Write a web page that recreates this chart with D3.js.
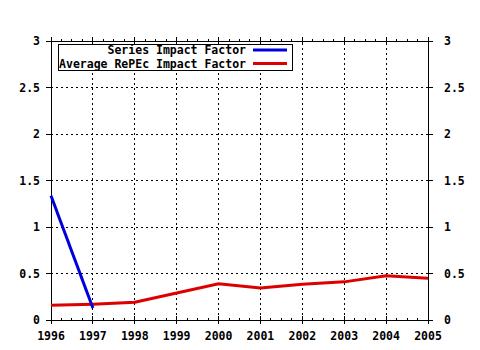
<!DOCTYPE html>
<html><head><meta charset="utf-8">
<script src="https://cdn.jsdelivr.net/npm/d3@7/dist/d3.min.js"></script>
<style>body{margin:0;background:#fff}svg{display:block}</style>
</head><body>
<script>
const years = [1996,1997,1998,1999,2000,2001,2002,2003,2004,2005];
const seriesIF = [1.335, 0.13];
const seriesYears = [1996, 1997];
const avgIF = [0.158, 0.17, 0.19, 0.29, 0.39, 0.345, 0.385, 0.41, 0.475, 0.45];
const yTicks = [0, 0.5, 1, 1.5, 2, 2.5, 3];
const yTickLabels = ["0","0.5","1","1.5","2","2.5","3"];
const legendLabels = ["Series Impact Factor", "Average RePEc Impact Factor"];
const colors = ["#0000dd", "#dd0000"];

const W = 480, H = 350;
const svg = d3.select("body").append("svg").attr("width", W).attr("height", H);
const x = d3.scaleLinear().domain([1996, 2005]).range([51, 428]);
const y = d3.scaleLinear().domain([0, 3]).range([320, 41]);
const font = "'DejaVu Sans Mono', monospace";

// grid
svg.append("g").selectAll("line").data(years.slice(1, -1)).join("line")
  .attr("x1", d => x(d)).attr("x2", d => x(d)).attr("y1", y(0)).attr("y2", y(3))
  .attr("stroke", "#000").attr("stroke-dasharray", "2,3").attr("shape-rendering", "crispEdges");
svg.append("g").selectAll("line").data(yTicks.slice(1, -1)).join("line")
  .attr("x1", x(1996)).attr("x2", x(2005)).attr("y1", d => y(d)).attr("y2", d => y(d))
  .attr("stroke", "#000").attr("stroke-dasharray", "2,3").attr("shape-rendering", "crispEdges");

// frame
svg.append("rect").attr("x", x(1996)).attr("y", y(3)).attr("width", x(2005) - x(1996)).attr("height", y(0) - y(3))
  .attr("fill", "none").attr("stroke", "#000").attr("shape-rendering", "crispEdges");

// y ticks both sides
const gt = svg.append("g").attr("stroke", "#000").attr("shape-rendering", "crispEdges");
yTicks.forEach(t => {
  gt.append("line").attr("x1", x(1996) - 5).attr("x2", x(1996)).attr("y1", y(t)).attr("y2", y(t));
  gt.append("line").attr("x1", x(2005)).attr("x2", x(2005) + 5).attr("y1", y(t)).attr("y2", y(t));
});
// x ticks top and bottom, with quarter minor ticks
const minor = d3.range(0, 37).map(i => 1996 + i * 0.25);
minor.forEach((t, i) => {
  const major = i % 4 === 0;
  gt.append("line").attr("x1", x(t)).attr("x2", x(t)).attr("y1", y(3) - (major ? 4 : 2)).attr("y2", y(3) + (major ? 4 : 0));
  gt.append("line").attr("x1", x(t)).attr("x2", x(t)).attr("y1", y(0) - (major ? 4 : 2)).attr("y2", y(0) + (major ? 4 : 0));
});

// labels
svg.append("g").selectAll("text").data(yTicks).join("text")
  .attr("x", 40).attr("y", d => y(d) + 4).attr("text-anchor", "end")
  .attr("font-family", font).attr("font-weight", "bold").attr("font-size", 11.5)
  .text((d, i) => yTickLabels[i]);
svg.append("g").selectAll("text").data(yTicks).join("text")
  .attr("x", 444).attr("y", d => y(d) + 4).attr("text-anchor", "start")
  .attr("font-family", font).attr("font-weight", "bold").attr("font-size", 11.5)
  .text((d, i) => yTickLabels[i]);
svg.append("g").selectAll("text").data(years).join("text")
  .attr("x", d => x(d)).attr("y", 340).attr("text-anchor", "middle")
  .attr("font-family", font).attr("font-weight", "bold").attr("font-size", 11.5)
  .text(d => d);

// lines
const line = d3.line().x(d => x(d[0])).y(d => y(d[1]));
svg.append("path").datum(years.map((yr, i) => [yr, avgIF[i]]))
  .attr("d", line).attr("fill", "none").attr("stroke", colors[1]).attr("stroke-width", 3);
svg.append("path").datum(seriesYears.map((yr, i) => [yr, seriesIF[i]]))
  .attr("d", line).attr("fill", "none").attr("stroke", colors[0]).attr("stroke-width", 3);

// legend
svg.append("rect").attr("x", 58).attr("y", 44).attr("width", 234).attr("height", 26)
  .attr("fill", "#fff").attr("stroke", "#000").attr("shape-rendering", "crispEdges");
legendLabels.forEach((lab, i) => {
  const ly = 50 + i * 13.5;
  svg.append("text").attr("x", 246).attr("y", ly + 4).attr("text-anchor", "end")
    .attr("font-family", font).attr("font-weight", "bold").attr("font-size", 11.5).text(lab);
  svg.append("line").attr("x1", 253).attr("x2", 287).attr("y1", ly).attr("y2", ly)
    .attr("stroke", colors[i]).attr("stroke-width", 3);
});
</script>
</body></html>
